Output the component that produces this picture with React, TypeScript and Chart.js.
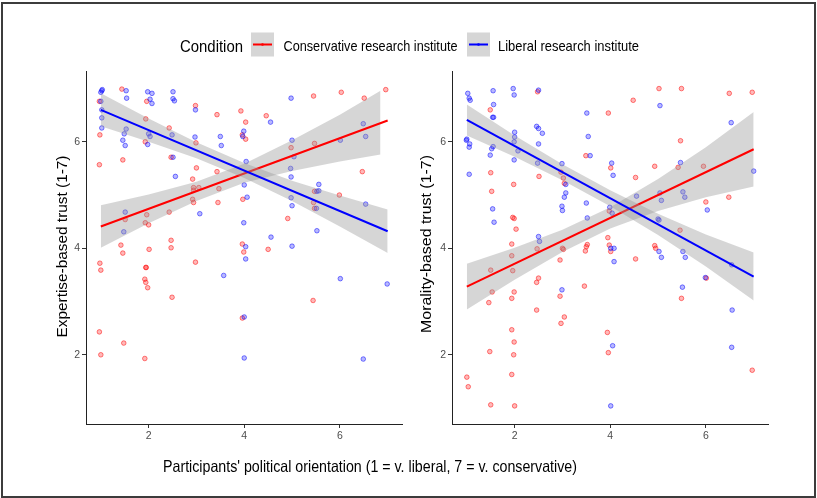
import React, { useEffect, useRef } from 'react';
import { Chart, registerables } from 'chart.js';

Chart.register(...registerables);

// ---------- tick values ----------
const xTicks = [2, 4, 6];
const yTicks = [2, 4, 6];

// ---------- legend / titles ----------
const legendTitle = 'Condition';
const seriesNames = ['Conservative research institute', 'Liberal research institute'];
const xTitle = "Participants' political orientation (1 = v. liberal, 7 = v. conservative)";
const yTitleLeft = 'Expertise-based trust (1-7)';
const yTitleRight = 'Morality-based trust (1-7)';

// ---------- LEFT panel (expertise) points ----------
const leftRedX = [1.44, 0.97, 1.96, 2.98, 3.43, 3.93, 4.46, 5.45, 6.03, 6.51, 6.96, 4.03, 3.96, 4.03, 1.94, 2.43, 1.93, 0.98, 1.46, 0.97, 2.47, 2.99, 3.0, 3.43, 2.92, 2.94, 2.94, 3.05, 2.92, 2.94, 3.47, 3.45, 3.97, 4.98, 5.47, 6.47, 5.99, 5.47, 5.45, 5.47, 4.91, 2.43, 1.96, 1.93, 2.0, 1.51, 1.42, 2.47, 2.47, 3.96, 4.5, 1.46, 2.01, 0.98, 1.0, 2.98, 1.94, 1.95, 1.92, 1.94, 1.98, 2.49, 5.44, 3.96, 3.99, 0.97, 1.48, 1.0, 1.92];
const leftRedY = [6.99, 6.76, 6.76, 6.68, 6.51, 6.58, 6.49, 6.86, 6.93, 6.82, 6.98, 6.37, 6.13, 6.05, 6.43, 6.26, 6.0, 6.13, 5.66, 5.57, 5.71, 5.98, 5.51, 5.44, 5.3, 5.14, 5.09, 5.14, 4.92, 4.86, 5.12, 4.86, 4.92, 5.89, 5.97, 5.44, 5.0, 5.07, 4.86, 4.75, 4.56, 4.68, 4.63, 4.48, 4.44, 4.54, 4.06, 4.15, 4.01, 4.08, 3.98, 3.91, 3.98, 3.72, 3.59, 3.74, 3.64, 3.64, 3.42, 3.36, 3.26, 3.08, 3.02, 2.69, 3.93, 2.43, 2.22, 2.0, 1.93];
const leftBlueX = [1.02, 1.0, 1.03, 1.53, 1.54, 1.98, 2.07, 2.03, 2.07, 2.51, 2.51, 2.54, 2.98, 4.98, 4.55, 3.99, 3.97, 3.5, 3.52, 2.97, 2.49, 2.51, 2.0, 2.03, 1.98, 1.53, 1.49, 1.46, 1.51, 1.02, 1.0, 1.02, 1.02, 2.56, 3.07, 1.51, 1.48, 3.99, 4.06, 4.0, 4.04, 4.56, 5.0, 5.0, 5.04, 4.97, 4.98, 4.98, 5.0, 5.52, 5.52, 5.56, 5.56, 5.51, 6.01, 6.49, 6.54, 6.54, 4.03, 4.03, 3.57, 6.01, 6.99, 4.0, 4.0, 6.49];
const leftBlueY = [6.96, 6.93, 6.98, 6.96, 6.82, 6.94, 6.91, 6.8, 6.72, 6.94, 6.81, 6.77, 6.6, 6.82, 6.37, 6.2, 6.1, 6.1, 5.93, 6.09, 6.13, 5.71, 6.15, 6.1, 5.95, 6.24, 6.15, 6.03, 5.93, 6.26, 6.76, 6.6, 6.45, 5.35, 4.65, 4.68, 4.31, 4.48, 4.96, 5.19, 5.63, 4.21, 4.04, 6.03, 5.72, 5.5, 5.34, 4.95, 4.8, 4.33, 5.07, 5.2, 5.08, 4.75, 6.03, 6.34, 6.1, 4.83, 4.03, 3.8, 3.49, 3.43, 3.33, 2.71, 1.94, 1.92];

// ---------- RIGHT panel (morality) points ----------
const rightRedX = [2.48, 1.49, 5.02, 5.49, 4.48, 3.96, 6.49, 6.97, 5.47, 3.49, 4.01, 4.93, 5.42, 5.95, 4.53, 1.5, 2.51, 1.98, 1.52, 2.97, 3.02, 3.04, 1.96, 1.99, 2.03, 1.94, 6.48, 6.0, 5.46, 3.98, 3.95, 3.98, 3.52, 4.93, 2.47, 3.0, 3.02, 3.5, 3.48, 4.01, 1.94, 1.5, 1.96, 2.5, 2.46, 2.95, 4.53, 4.95, 1.53, 1.46, 1.94, 1.99, 2.46, 2.95, 3.46, 3.04, 2.97, 1.94, 1.99, 1.48, 1.98, 1.94, 1.0, 1.03, 1.5, 2.0, 3.94, 3.96, 5.49, 6.01, 6.97];
const rightRedY = [6.94, 6.6, 7.0, 7.0, 6.78, 6.54, 6.91, 6.93, 6.02, 5.74, 5.51, 5.54, 5.52, 5.54, 5.33, 5.42, 5.35, 5.2, 5.07, 5.43, 5.32, 5.22, 4.58, 4.56, 4.36, 4.08, 4.96, 4.87, 4.34, 4.7, 4.2, 4.06, 4.07, 4.05, 3.99, 4.0, 3.98, 4.03, 3.95, 3.94, 3.86, 3.59, 3.58, 3.44, 3.36, 3.78, 3.8, 4.0, 3.18, 2.98, 3.06, 3.18, 2.84, 3.1, 3.29, 2.71, 2.59, 2.47, 2.24, 2.06, 2.0, 1.63, 1.58, 1.4, 1.06, 1.04, 2.42, 2.04, 3.06, 3.44, 1.71];
const rightBlueX = [1.02, 1.05, 1.07, 1.55, 1.97, 1.99, 2.5, 1.56, 1.54, 1.56, 2.0, 2.0, 1.99, 2.46, 2.5, 2.58, 2.5, 1.0, 0.99, 1.06, 1.05, 1.52, 1.49, 1.55, 1.99, 2.07, 2.48, 1.05, 1.54, 1.57, 2.5, 2.52, 3.51, 3.54, 3.58, 2.99, 3.07, 3.07, 3.04, 2.99, 3.0, 3.5, 3.52, 4.03, 4.06, 3.99, 4.04, 4.55, 5.04, 5.04, 5.07, 5.0, 5.02, 5.47, 5.52, 5.56, 6.03, 6.53, 7.0, 4.01, 4.08, 4.08, 2.99, 5.02, 5.07, 5.52, 5.57, 5.51, 5.99, 6.55, 6.54, 6.54, 4.05, 4.01];
const rightBlueY = [6.91, 6.82, 6.78, 6.96, 7.0, 6.88, 6.97, 6.7, 6.46, 6.46, 6.18, 6.09, 6.0, 6.29, 6.25, 6.16, 5.96, 6.05, 6.03, 5.96, 5.9, 5.87, 5.75, 5.91, 5.66, 5.83, 5.6, 5.39, 4.74, 4.49, 4.22, 4.13, 6.54, 6.1, 5.74, 5.59, 5.2, 5.04, 4.96, 4.79, 4.71, 4.85, 4.57, 5.6, 5.37, 4.77, 4.66, 4.98, 6.68, 5.04, 4.9, 4.55, 4.53, 5.61, 5.06, 4.96, 4.72, 6.36, 5.45, 4.0, 4.0, 3.75, 3.22, 3.94, 3.83, 3.94, 3.83, 3.27, 3.45, 2.84, 2.14, 3.69, 2.17, 1.04];

// ---------- fitted lines and confidence bands ----------
const fitX = [1, 2, 3, 4, 5, 6, 7];
const leftRedBandX = [1, 2, 3, 4, 5, 6, 6.85];
const leftRedFit = [4.41, 4.74, 5.07, 5.41, 5.74, 6.07, 6.4];
const leftRedLo = [4.01, 4.47, 4.89, 5.23, 5.45, 5.63, 5.76];
const leftRedHi = [4.81, 5.01, 5.25, 5.59, 6.03, 6.51, 6.96];
const leftBlueFit = [6.6, 6.22, 5.84, 5.46, 5.08, 4.7, 4.32];
const leftBlueLo = [6.29, 6.0, 5.69, 5.32, 4.89, 4.41, 3.91];
const leftBlueHi = [6.91, 6.44, 5.99, 5.6, 5.27, 4.99, 4.73];

const rightRedFit = [3.28, 3.71, 4.14, 4.57, 5.0, 5.43, 5.86];
const rightRedLo = [2.85, 3.41, 3.93, 4.37, 4.7, 4.96, 5.16];
const rightRedHi = [3.71, 4.01, 4.35, 4.77, 5.3, 5.9, 6.56];
const rightBlueFit = [6.41, 5.92, 5.43, 4.94, 4.45, 3.96, 3.47];
const rightBlueLo = [6.12, 5.72, 5.28, 4.79, 4.25, 3.66, 3.02];
const rightBlueHi = [6.7, 6.12, 5.58, 5.09, 4.65, 4.26, 3.92];

const RED = '#FF0000';
const BLUE = '#0000FF';
const BAND = 'rgba(153,153,153,0.4)';
const FONT = "'Liberation Sans', Arial, sans-serif";

const pts = (xs: number[], ys: number[]) => xs.map((x, i) => ({ x, y: ys[i] }));

type PanelProps = {
  left: number;
  redX: number[]; redY: number[]; blueX: number[]; blueY: number[];
  redBandX: number[]; redFit: number[]; redLo: number[]; redHi: number[];
  blueFit: number[]; blueLo: number[]; blueHi: number[];
};

function Panel(p: PanelProps) {
  const ref = useRef<HTMLCanvasElement>(null);
  useEffect(() => {
    if (!ref.current) return;
    const lineDs = (data: any, color: string, order: number) => ({
      type: 'line', data, borderColor: color, borderWidth: 2, pointRadius: 0,
      showLine: true, fill: false, order, tension: 0,
    });
    const bandDs = (data: any, fill: any, order: number) => ({
      type: 'line', data, borderWidth: 0, borderColor: 'rgba(0,0,0,0)', pointRadius: 0,
      showLine: true, backgroundColor: BAND, fill, order, tension: 0,
    });
    const ptDs = (data: any, rgb: string, order: number) => ({
      type: 'scatter', data, pointRadius: 2.3, pointBorderWidth: 1,
      backgroundColor: `rgba(${rgb},0.28)`, borderColor: `rgba(${rgb},0.5)`,
      pointStyle: 'circle', order,
    });
    const axisCommon = {
      type: 'linear',
      grid: { display: true, drawOnChartArea: false, drawTicks: true, tickLength: 4, color: '#333333', lineWidth: 1 },
      border: { display: true, color: '#222222', width: 1 },
      ticks: { color: '#4D4D4D', font: { size: 10.5, family: FONT }, padding: 2 },
    };
    const chart = new Chart(ref.current, {
      type: 'scatter',
      data: {
        datasets: [
          lineDs(pts([1, 7], [p.blueFit[0], p.blueFit[p.blueFit.length - 1]]), BLUE, 0),
          bandDs(pts(fitX, p.blueHi), '+1', 1),
          bandDs(pts(fitX, p.blueLo), false, 2),
          lineDs(pts([1, 7], [p.redFit[0], p.redFit[p.redFit.length - 1]]), RED, 3),
          bandDs(pts(p.redBandX, p.redHi), '+1', 4),
          bandDs(pts(p.redBandX, p.redLo), false, 5),
          ptDs(pts(p.blueX, p.blueY), '0,0,255', 6),
          ptDs(pts(p.redX, p.redY), '255,0,0', 7),
        ] as any,
      },
      options: {
        animation: false,
        responsive: false,
        maintainAspectRatio: false,
        layout: { padding: { left: 0, right: 8, top: 11, bottom: 0 } },
        plugins: { legend: { display: false }, tooltip: { enabled: false } },
        scales: {
          x: {
            ...axisCommon, min: 0.69, max: 7.3,
            afterBuildTicks: (s: any) => { s.ticks = xTicks.map((v) => ({ value: v })); },
            afterFit: (s: any) => { s.height = 36; },
          },
          y: {
            ...axisCommon, min: 0.7, max: 7.33,
            afterBuildTicks: (s: any) => { s.ticks = yTicks.map((v) => ({ value: v })); },
            afterFit: (s: any) => { s.width = 56; },
          },
        } as any,
      },
    } as any);
    return () => chart.destroy();
  }, []);
  return (
    <canvas
      ref={ref}
      width={380}
      height={400}
      style={{ position: 'absolute', left: p.left, top: 60, width: 380, height: 400 }}
    />
  );
}

export default function App() {
  return (
    <div style={{ position: 'fixed', left: 0, top: 0, width: 817, height: 498, background: '#fff', overflow: 'hidden' }}>
      <div style={{ position: 'absolute', left: 1, top: 2, width: 815, height: 496, boxSizing: 'border-box', border: '2px solid #3c3c3c' }} />
      <Panel
        left={30}
        redX={leftRedX} redY={leftRedY} blueX={leftBlueX} blueY={leftBlueY}
        redBandX={leftRedBandX} redFit={leftRedFit} redLo={leftRedLo} redHi={leftRedHi}
        blueFit={leftBlueFit} blueLo={leftBlueLo} blueHi={leftBlueHi}
      />
      <Panel
        left={396}
        redX={rightRedX} redY={rightRedY} blueX={rightBlueX} blueY={rightBlueY}
        redBandX={fitX} redFit={rightRedFit} redLo={rightRedLo} redHi={rightRedHi}
        blueFit={rightBlueFit} blueLo={rightBlueLo} blueHi={rightBlueHi}
      />
      <svg width={817} height={498} style={{ position: 'absolute', left: 0, top: 0, pointerEvents: 'none' }}>
        <g fontFamily={FONT} fill="#000">
          <text x={180} y={51.5} fontSize={16} textLength={63} lengthAdjust="spacingAndGlyphs">{legendTitle}</text>
          <rect x={251} y={32.5} width={23} height={24} fill="#D6D6D6" />
          <line x1={253} y1={44.5} x2={272} y2={44.5} stroke={RED} strokeWidth={2} />
          <circle cx={262.5} cy={44.5} r={1.3} fill={RED} />
          <text x={283.5} y={51} fontSize={14.4} textLength={174} lengthAdjust="spacingAndGlyphs">{seriesNames[0]}</text>
          <rect x={467} y={32.5} width={23} height={24} fill="#D6D6D6" />
          <line x1={469} y1={44.5} x2={488} y2={44.5} stroke={BLUE} strokeWidth={2} />
          <circle cx={478.5} cy={44.5} r={1.3} fill={BLUE} />
          <text x={498} y={51} fontSize={14.4} textLength={141} lengthAdjust="spacingAndGlyphs">{seriesNames[1]}</text>
          <text x={163} y={472} fontSize={16.5} textLength={414} lengthAdjust="spacingAndGlyphs">{xTitle}</text>
          <text transform="translate(67,246.5) rotate(-90)" textAnchor="middle" fontSize={15} textLength={182} lengthAdjust="spacingAndGlyphs">{yTitleLeft}</text>
          <text transform="translate(431,244) rotate(-90)" textAnchor="middle" fontSize={15} textLength={178} lengthAdjust="spacingAndGlyphs">{yTitleRight}</text>
        </g>
      </svg>
    </div>
  );
}
